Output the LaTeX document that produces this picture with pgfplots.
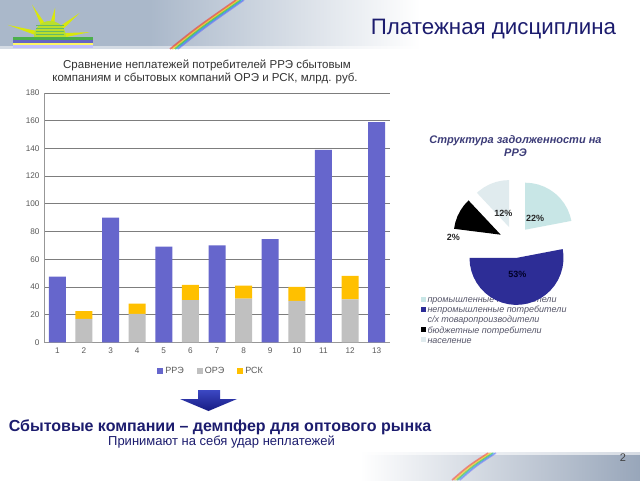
\documentclass[border=0pt]{standalone}
\usepackage{fontspec}
\setmainfont{Liberation Sans}
\usepackage{pgfplots}
\pgfplotsset{compat=1.18}
\usepackage{pgfplotstable}
\usetikzlibrary{calc}

\definecolor{navy}{RGB}{28,28,110}
\definecolor{rre}{RGB}{102,102,204}
\definecolor{ore}{RGB}{192,192,192}
\definecolor{rsk}{RGB}{255,192,0}
\definecolor{pieTeal}{RGB}{200,230,230}
\definecolor{pieBlue}{RGB}{45,45,150}
\definecolor{pieLight}{RGB}{224,235,238}
\definecolor{pieTitle}{RGB}{60,60,120}
\definecolor{gridc}{RGB}{125,125,125}
\definecolor{hdrA}{RGB}{170,184,202}
\definecolor{hdrB}{RGB}{152,166,186}
\definecolor{legtxt}{RGB}{85,85,105}
\definecolor{arrowTop}{RGB}{60,72,195}
\definecolor{arrowBot}{RGB}{22,26,130}

\pgfplotstableread{
x  rre   ore   rsk
1  47.5  0     0
2  0     17    5.5
3  90    0     0
4  0     20.5  7.5
5  69    0     0
6  0     30.5  11
7  70    0     0
8  0     31.5  9.5
9  74.5  0     0
10 0     30    10
11 139   0     0
12 0     31    17
13 159   0     0
}\bardata

\begin{document}
\begin{tikzpicture}[x=1pt,y=1pt]
\path[use as bounding box] (0,0) rectangle (640,480);
\fill[white] (0,0) rectangle (640,480);

% header band
\fill[hdrA] (0,431) rectangle (150,480);
\shade[left color=hdrA, middle color=hdrB, right color=white] (150,431) rectangle (420,480);
\shade[top color=white, bottom color=white, opacity=0.5] (0,429) rectangle (420,433);
\foreach \c/\o in {red/0,orange/1.6,yellow/3.2,green!70!black/4.8,cyan/6.4,blue!70/8}{
  \draw[\c, line width=1.6pt, opacity=0.45] (170+\o,431) .. controls (196+\o,452) .. (236+\o,480);
}
% logo
\foreach \a/\r in {164/44,119/37,80/30,39/38,7/40}{
  \fill[yellow!85!green] ($(50,443)+(\a-9:14)$) -- ($(50,443)+(\a:\r)$) -- ($(50,443)+(\a+9:14)$) -- cycle;
}
\fill[yellow!70!green!90!white] (34,443) arc (180:0:16) -- cycle;
\foreach \yy in {446,449,452,455}{\draw[green!55!black!60, line width=0.6pt] (36,\yy) -- (64,\yy);}
\fill[green!55!black!70] (13,440) rectangle (93,443);
\fill[blue!60!black!60] (13,437) rectangle (93,440);
\fill[yellow!60] (13,435) rectangle (93,437);
\fill[blue!25] (13,432) rectangle (93,435);

% bottom right image
\shade[left color=white, right color=hdrB] (360,0) rectangle (640,28);
\shade[top color=white, bottom color=white, opacity=0.6] (360,26) rectangle (640,29);
\foreach \c/\o in {red/0,orange/1.6,yellow/3.2,green!70!black/4.8,cyan/6.4,blue!70/8}{
  \draw[\c, line width=1.5pt, opacity=0.4] (452+\o,0) .. controls (468+\o,14) .. (488+\o,27);
}

% titles and texts
\node[anchor=base, font=\fontsize{22.3}{26}\selectfont, text=navy] at (493.5,445) {Платежная дисциплина};
\node[anchor=base, font=\fontsize{11.5}{13}\selectfont, text=black!80] at (207,411) {Сравнение неплатежей потребителей РРЭ сбытовым};
\node[anchor=base, font=\fontsize{11.5}{13}\selectfont, text=black!80] at (205,398) {компаниям и сбытовых компаний ОРЭ и РСК, млрд. руб.};
\node[anchor=base, font=\bfseries\itshape\fontsize{11}{13}\selectfont, text=pieTitle] at (515.5,336) {Структура задолженности на};
\node[anchor=base, font=\bfseries\itshape\fontsize{11}{13}\selectfont, text=pieTitle] at (515.5,323) {РРЭ};

% bar chart
\begin{axis}[
  at={(44pt,137.7pt)}, anchor=south west, scale only axis,
  width=346pt, height=249.3pt,
  xmin=0.5, xmax=13.5, ymin=0, ymax=180,
  ybar stacked, bar width=17pt,
  xtick={1,...,13}, ytick={0,20,...,180},
  axis x line*=bottom, axis y line*=left,
  axis line style={draw=gridc!80, line width=0.8pt},
  ymajorgrids, grid style={draw=gridc, line width=0.7pt},
  major tick length=0pt,
  tick label style={font=\fontsize{8.2}{9}\selectfont, text=black!65},
  xticklabel style={yshift=-2pt},
  yticklabel style={xshift=-1pt},
  /pgf/number format/assume math mode=true,
  legend style={at={(0.483,-0.083)}, anchor=north, legend columns=3, draw=none, fill=none,
    font=\fontsize{9}{10}\selectfont, text=black!65,
    /tikz/every even column/.append style={column sep=11pt}},
  legend image code/.code={\fill[#1] (0pt,-3pt) rectangle (6pt,3pt);},
]
\addplot[fill=rre, draw=none] table[x=x,y=rre]{\bardata};
\addplot[fill=ore, draw=none] table[x=x,y=ore]{\bardata};
\addplot[fill=rsk, draw=none] table[x=x,y=rsk]{\bardata};
\legend{РРЭ,ОРЭ,РСК}
\end{axis}

% pie legend (text under the pie)
\foreach \i/\c/\t in {0/pieTeal/{промышленные потребители},1/pieBlue/{непромышленные потребители},2/white/{с/х товаропроизводители},3/black/{бюджетные потребители},4/pieLight/{население}}{
  \fill[\c] (421,{480-302.7-\i*10.1+1.2}) rectangle (425.5,{480-302.7-\i*10.1+5.7});
  \node[anchor=base west, inner sep=0pt, font=\itshape\fontsize{9}{11}\selectfont, text=legtxt] at (427.3,{480-302.7-\i*10.1}) {\t};
}

% pie chart
\begin{axis}[
  at={(440pt,163pt)}, anchor=south west, scale only axis,
  width=150pt, height=150pt,
  xmin=-75, xmax=75, ymin=-75, ymax=75,
  hide axis, clip=false,
]
% промышленные 22%
\addplot[fill=pieTeal, draw=none, data cs=polar, xshift=10.2pt, yshift=12.3pt] coordinates {
 (0,0) (10.8,47) (18,47) (26,47) (34,47) (42,47) (50,47) (58,47) (66,47) (74,47) (82,47) (90,47) (0,0)};
% непромышленные 53%
\addplot[fill=pieBlue, draw=none, data cs=polar, xshift=1.5pt, yshift=-15.9pt] coordinates {
 (0,0) (-180,47) (-172,47) (-164,47) (-156,47) (-148,47) (-140,47) (-132,47) (-124,47) (-116,47)
 (-108,47) (-100,47) (-92,47) (-84,47) (-76,47) (-68,47) (-60,47) (-52,47) (-44,47) (-36,47)
 (-28,47) (-20,47) (-12,47) (-4,47) (4,47) (10.8,47) (0,0)};
% с/х 2%
\addplot[fill=white, draw=none, data cs=polar, xshift=-16pt, yshift=1pt] coordinates {
 (0,0) (172.8,47) (176,47) (180,47) (0,0)};
% бюджетные 11%
\addplot[fill=black, draw=none, data cs=polar, xshift=-14.3pt, yshift=7.3pt] coordinates {
 (0,0) (133.2,47) (141,47) (149,47) (157,47) (165,47) (172.8,47) (0,0)};
% население 12%
\addplot[fill=pieLight, draw=none, data cs=polar, xshift=-5.9pt, yshift=14.9pt] coordinates {
 (0,0) (90,47) (98,47) (106,47) (114,47) (122,47) (130,47) (133.2,47) (0,0)};
\node[font=\bfseries\fontsize{9}{10}\selectfont, text=black!85] at (axis cs:20,23.7) {22\%};
\node[font=\bfseries\fontsize{9}{10}\selectfont, text=black!85] at (axis cs:-11.7,28.7) {12\%};
\node[font=\bfseries\fontsize{9}{10}\selectfont, text=black!85!blue] at (axis cs:2.3,-32) {53\%};
\node[font=\bfseries\fontsize{9}{10}\selectfont, text=black!85] at (axis cs:-61.7,4.7) {2\%};
\end{axis}

% arrow
\shade[top color=arrowTop, bottom color=arrowBot] (198,90) -- (220,90) -- (220,81) -- (237,81) -- (208.5,69) -- (180,81) -- (198,81) -- cycle;

\node[anchor=base, font=\bfseries\fontsize{16}{18}\selectfont, text=navy] at (220,49) {Сбытовые компании – демпфер для оптового рынка};
\node[anchor=base, font=\fontsize{13}{15}\selectfont, text=navy] at (221.5,35) {Принимают на себя удар неплатежей};
\node[anchor=base, font=\fontsize{11}{13}\selectfont, text=black!75] at (623,19) {2};
\end{tikzpicture}
\end{document}
